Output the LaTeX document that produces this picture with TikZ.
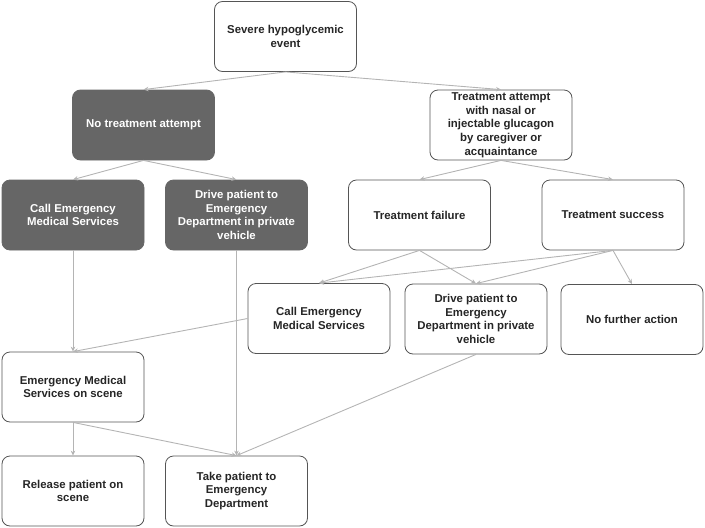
\documentclass[tikz,border=0pt]{standalone}
\usepackage{fontspec}
\setmainfont{Liberation Sans}
\usepackage{tikz}
\tikzset{>=stealth}
\usetikzlibrary{arrows.meta, positioning}
\definecolor{boxline}{HTML}{555555}
\definecolor{boxdark}{HTML}{666666}
\definecolor{linkgray}{HTML}{B4B4B4}
\definecolor{textdark}{HTML}{262626}
\tikzset{
  box/.style={draw=boxline, line width=0.8pt, rounded corners=8pt, fill=white,
    minimum width=142pt, minimum height=70pt, inner sep=2pt, align=center,
    text=textdark, font=\fontsize{11.4}{13.7}\selectfont\bfseries},
  darkbox/.style={box, fill=boxdark, draw=boxdark, text=white},
  link/.style={draw=linkgray, line width=0.9pt, -{Stealth[length=5pt,width=4.5pt]}}
}

\begin{document}
\begin{tikzpicture}[x=1pt, y=-1pt]
            \useasboundingbox (0,0) rectangle (705,528);
            \node[box] (severe) at (285.5,36.5) {Severe hypoglycemic\\event};
            \node[darkbox] (notreat) at (143.5,125) {No treatment attempt};
            \node[box] (attempt) at (501,125) {Treatment attempt\\with nasal or\\injectable glucagon\\by caregiver or\\acquaintance};
            \node[darkbox] (callA) at (73,215) {Call Emergency\\Medical Services};
            \node[darkbox] (driveA) at (236.5,215) {Drive patient to\\Emergency\\Department in private\\vehicle};
            \node[box] (failure) at (419.5,215) {Treatment failure};
            \node[box] (success) at (613,215) {Treatment success};
            \node[box] (callB) at (319,318.5) {Call Emergency\\Medical Services};
            \node[box] (driveB) at (476,319) {Drive patient to\\Emergency\\Department in private\\vehicle};
            \node[box] (nofurther) at (632,319.5) {No further action};
            \node[box] (onscene) at (73,387) {Emergency Medical\\Services on scene};
            \node[box] (release) at (73,491) {Release patient on\\scene};
            \node[box] (takeED) at (236.5,491) {Take patient to\\Emergency\\Department};
            \draw[link] (severe.south) -- (notreat.north);
            \draw[link] (severe.south) -- (attempt.north);
            \draw[link] (notreat.south) -- (callA.north);
            \draw[link] (notreat.south) -- (driveA.north);
            \draw[link] (attempt.south) -- (failure.north);
            \draw[link] (attempt.south) -- (success.north);
            \draw[link] (failure.south) -- (callB.north);
            \draw[link] (failure.south) -- (driveB.north);
            \draw[link] (success.south) -- (callB.north);
            \draw[link] (success.south) -- (driveB.north);
            \draw[link] (success.south) -- (nofurther.north);
            \draw[link] (callA.south) -- (onscene.north);
            \draw[link] (callB.west) -- (onscene.north);
            \draw[link] (driveA.south) -- (takeED.north);
            \draw[link] (onscene.south) -- (release.north);
            \draw[link] (onscene.south) -- (takeED.north);
            \draw[link] (driveB.south) -- (takeED.north);
        \end{tikzpicture}
\end{document}
